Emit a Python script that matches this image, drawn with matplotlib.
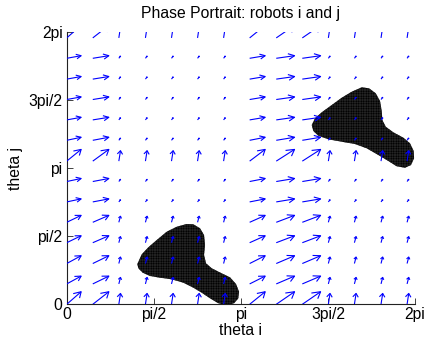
import numpy as np
import matplotlib
matplotlib.use("Agg")
import matplotlib.pyplot as plt
from matplotlib.collections import LineCollection

plt.rcParams['font.family'] = ['Liberation Sans', 'DejaVu Sans']
plt.rcParams['hatch.linewidth'] = 0.3

# grid of phases (rad), same for theta i and theta j
theta_grid = [0.00, 0.47, 0.94, 1.42, 1.89, 2.36, 2.83, 3.30, 3.78, 4.25, 4.72, 5.19, 5.67, 6.14]
# d(theta i) for each column
u_col = [0.26, 0.29, 0.03, 0.03, 0.03, 0.03, 0.03, 0.28, 0.33, 0.33, 0.03, 0.03, 0.03, 0.03]
# 1 = column where robot i moves fast
fast_col = [1, 1, 0, 0, 0, 0, 0, 1, 1, 1, 0, 0, 0, 0]
# d(theta j) for each row, in fast / slow columns
v_fast = [0.29, 0.18, 0.18, 0.16, 0.16, 0.07, 0.07, 0.27, 0.07, 0.06, 0.06, 0.06, 0.06, 0.29]
v_slow = [0.25, 0.15, 0.15, 0.14, 0.14, 0.05, 0.05, 0.24, 0.05, 0.05, 0.05, 0.05, 0.05, 0.25]

# collision regions (outlines)
blob1_x = [1.274, 1.353, 1.472, 1.624, 1.804, 1.985, 2.165, 2.284, 2.405, 2.477, 2.495, 2.477,
           2.513, 2.616, 2.796, 2.946, 3.054, 3.109, 3.096, 3.018, 2.887, 2.735, 2.585, 2.435,
           2.284, 2.104, 1.894, 1.683, 1.503, 1.371, 1.292]
blob1_y = [0.929, 1.152, 1.314, 1.482, 1.673, 1.788, 1.851, 1.844, 1.752, 1.597, 1.367, 1.136,
           0.945, 0.830, 0.714, 0.622, 0.468, 0.290, 0.138, 0.023, -0.02, 0.023, 0.138, 0.267,
           0.383, 0.498, 0.576, 0.613, 0.652, 0.728, 0.830]
blob2_x = [4.420, 4.479, 4.600, 4.781, 4.961, 5.142, 5.322, 5.454, 5.575, 5.652, 5.683, 5.694,
           5.755, 5.892, 6.073, 6.193, 6.260, 6.266, 6.211, 6.103, 5.953, 5.802, 5.621, 5.412,
           5.201, 4.961, 4.720, 4.539, 4.449]
blob2_y = [4.132, 4.287, 4.425, 4.593, 4.761, 4.900, 5.001, 4.978, 4.863, 4.685, 4.455, 4.248,
           4.093, 3.964, 3.840, 3.711, 3.533, 3.365, 3.210, 3.148, 3.180, 3.303, 3.441, 3.595,
           3.694, 3.747, 3.803, 3.886, 3.994]

fig = plt.figure(figsize=(4.25, 3.46), dpi=100)
ax = fig.add_axes([0.157, 0.1205, 0.8195, 0.7879])

# black regions with faint grid texture
for bx, by in [(blob1_x, blob1_y), (blob2_x, blob2_y)]:
    ax.fill(bx, by, facecolor='black', edgecolor='#2c2c2c', hatch='++++++++++', lw=0, zorder=2)

# matlab style quiver: shaft + two open head lines
alpha, beta = 0.33, 0.6
segs = []
for j, y in enumerate(theta_grid):
    for i, x in enumerate(theta_grid):
        u = u_col[i]
        v = v_fast[j] if fast_col[i] else v_slow[j]
        tx, ty = x + u, y + v
        segs.append([(x, y), (tx, ty)])
        segs.append([(tx - alpha * (u + beta * v), ty - alpha * (v - beta * u)),
                     (tx, ty),
                     (tx - alpha * (u - beta * v), ty - alpha * (v + beta * u))])
ax.add_collection(LineCollection(segs, colors='#0000ff', linewidths=0.8, zorder=3))

ax.set_xlim(0, 2 * np.pi)
ax.set_ylim(0, 2 * np.pi)
ticks = [0, np.pi / 2, np.pi, 3 * np.pi / 2, 2 * np.pi]
labels = ['0', 'pi/2', 'pi', '3pi/2', '2pi']
ax.set_xticks(ticks)
ax.set_xticklabels(labels)
ax.set_yticks(ticks)
ax.set_yticklabels(labels)
ax.spines['top'].set_visible(False)
ax.spines['right'].set_visible(False)
for s in ['left', 'bottom']:
    ax.spines[s].set_color('#222222')
    ax.spines[s].set_linewidth(0.8)
ax.tick_params(direction='in', length=4, width=0.6, labelsize=11.3, colors='#222222')
ax.tick_params(axis='x', pad=2)
ax.tick_params(axis='y', pad=3)
ax.tick_params(labelcolor='black')

ax.set_title('Phase Portrait: robots i and j', fontsize=11.3, pad=10)
ax.set_xlabel('theta i', fontsize=11.3, labelpad=1)
ax.set_ylabel('theta j', fontsize=11.3, labelpad=4)

fig.savefig('out.png', dpi=100)
